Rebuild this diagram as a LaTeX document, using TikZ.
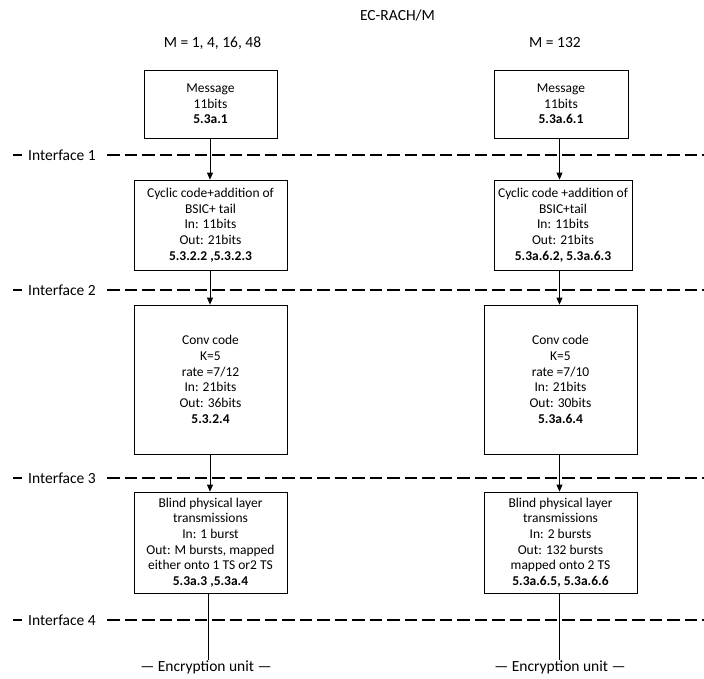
\documentclass[tikz,border=0pt]{standalone}
\usepackage{fontspec}
\setmainfont{Carlito}
\usetikzlibrary{arrows.meta}
\begin{document}
\begin{tikzpicture}[x=1pt,y=-1pt,
  box/.style={draw, line width=0.8pt, align=center, inner sep=0pt,
    font=\fontsize{13.5}{15.7}\selectfont},
  big/.style={inner sep=0pt, font=\fontsize{15.5}{18}\selectfont},
  iface/.style={dash pattern=on 12.5pt off 5pt, line width=1.8pt},
  tick/.style={line width=1.8pt},
  flow/.style={line width=0.8pt, -{Triangle[length=7pt,width=6pt]}},
  plain/.style={line width=0.8pt}]
\useasboundingbox (0,0) rectangle (704,678);
% headings
\node[big] (title) at (397.5,15) {EC-RACH/M};
\node[big] (hl) at (212.5,43) {M = 1, 4, 16, 48};
\node[big] (hr) at (555,43) {M = 132};
% interfaces
\foreach \i/\y in {1/155,2/290,3/478,4/620}{
  \node[big, anchor=west] (if\i) at (28,\y) {Interface \i};
  \coordinate (ts\i) at (13,\y);
  \coordinate (te\i) at (22,\y);
  \coordinate (ds\i) at (107,\y);
  \coordinate (de\i) at (704,\y);
  \draw[tick] (ts\i) -- (te\i);
  \draw[iface] (ds\i) -- (de\i);
}
% left column
\node[box, minimum width=133pt, minimum height=68pt] (msgL) at (210.5,104)
  {Message\\11bits\\\textbf{5.3a.1}};
\node[box, minimum width=153pt, minimum height=90pt] (cycL) at (210.5,225)
  {Cyclic code+addition of\\BSIC+ tail\\In: 11bits\\Out: 21bits\\\textbf{5.3.2.2 ,5.3.2.3}};
\node[box, minimum width=153pt, minimum height=149pt] (convL) at (210.5,379.5)
  {Conv code\\K=5\\rate =7/12\\In: 21bits\\Out: 36bits\\\textbf{5.3.2.4}};
\node[box, minimum width=153pt, minimum height=101pt] (blindL) at (210.5,542.5)
  {Blind physical layer\\transmissions\\In: 1 burst\\Out: M bursts, mapped\\either onto 1 TS or2 TS\\\textbf{5.3a.3 ,5.3a.4}};
\node[big] (encL) at (206,667) {— Encryption unit —};
% right column
\node[box, minimum width=134pt, minimum height=68pt] (msgR) at (561,104)
  {Message\\11bits\\\textbf{5.3a.6.1}};
\node[box, minimum width=138pt, minimum height=90pt] (cycR) at (563,225)
  {Cyclic code +addition of\\BSIC+tail\\In: 11bits\\Out: 21bits\\\textbf{5.3a.6.2, 5.3a.6.3}};
\node[box, minimum width=153pt, minimum height=149pt] (convR) at (560.5,379.5)
  {Conv code\\K=5\\rate =7/10\\In: 21bits\\Out: 30bits\\\textbf{5.3a.6.4}};
\node[box, minimum width=153pt, minimum height=101pt] (blindR) at (560.5,542.5)
  {Blind physical layer\\transmissions\\In: 2 bursts\\Out: 132 bursts\\mapped onto 2 TS\\\textbf{5.3a.6.5, 5.3a.6.6}};
\node[big] (encR) at (560,667) {— Encryption unit —};
% connectors
\coordinate (a1) at (210,0);
\coordinate (a2) at (208,0);
\draw[flow] (msgL.south -| a1) -- (a1 |- cycL.north);
\draw[flow] (cycL.south -| a1) -- (a1 |- convL.north);
\draw[flow] (convL.south -| a1) -- (a1 |- blindL.north);
\draw[plain] (blindL.south -| a2) -- (a2 |- encL.north);
\coordinate (b1) at (559.5,0);
\draw[flow] (msgR.south -| b1) -- (b1 |- cycR.north);
\draw[flow] (cycR.south -| b1) -- (b1 |- convR.north);
\draw[flow] (convR.south -| b1) -- (b1 |- blindR.north);
\draw[plain] (blindR.south -| b1) -- (b1 |- encR.north);
\end{tikzpicture}
\end{document}
